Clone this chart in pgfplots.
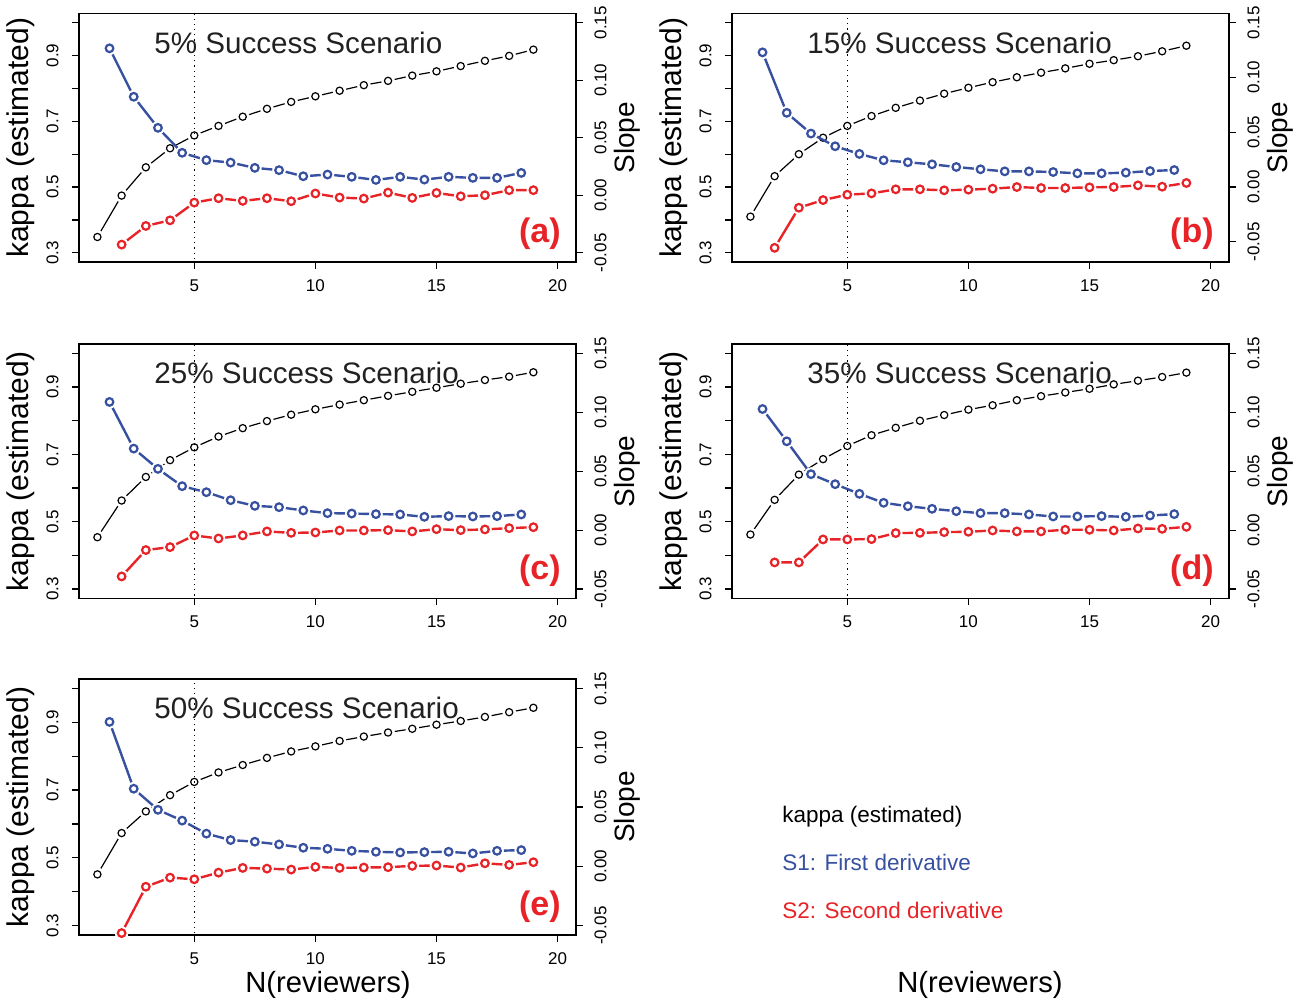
\documentclass[border=0pt]{standalone}
\usepackage{pgfplots}
\pgfplotsset{compat=1.18}
\usepackage{pgfplotstable}
\usepackage{fontspec}
\setmainfont{Liberation Sans}
\definecolor{sblue}{RGB}{55,80,160}
\definecolor{sred}{RGB}{232,35,40}

% columns: n, kappa(n), S1 at n+0.5, S2 at n
\pgfplotstableread{
n kappa s1 s2
1 0.348 0.1277 nan
2 0.474 0.0856 -0.0429
3 0.560 0.0586 -0.0267
4 0.618 0.0369 -0.0218
5 0.657 0.0305 -0.0064
6 0.686 0.0284 -0.0026
7 0.714 0.0238 -0.0049
8 0.738 0.0218 -0.0026
9 0.759 0.0165 -0.0052
10 0.776 0.0180 0.0015
11 0.793 0.0160 -0.0020
12 0.810 0.0133 -0.0029
13 0.823 0.0160 0.0023
14 0.839 0.0136 -0.0023
15 0.852 0.0160 0.0020
16 0.868 0.0151 -0.0009
17 0.884 0.0151 0.0000
18 0.899 0.0194 0.0044
19 0.918 nan 0.0044
}\tabA
\pgfplotstableread{
n kappa s1 s2
1 0.410 0.1229 nan
2 0.533 0.0677 -0.0555
3 0.600 0.0488 -0.0189
4 0.650 0.0372 -0.0119
5 0.686 0.0302 -0.0070
6 0.716 0.0244 -0.0058
7 0.741 0.0226 -0.0021
8 0.763 0.0207 -0.0021
9 0.784 0.0183 -0.0030
10 0.802 0.0162 -0.0024
11 0.819 0.0143 -0.0015
12 0.834 0.0143 0.0000
13 0.848 0.0137 -0.0009
14 0.861 0.0125 -0.0009
15 0.875 0.0125 -0.0003
16 0.886 0.0131 0.0000
17 0.898 0.0146 0.0015
18 0.913 0.0155 0.0003
19 0.930 nan 0.0037
}\tabB
\pgfplotstableread{
n kappa s1 s2
1 0.454 0.1088 nan
2 0.563 0.0692 -0.0393
3 0.633 0.0520 -0.0169
4 0.683 0.0373 -0.0144
5 0.721 0.0322 -0.0045
6 0.753 0.0254 -0.0071
7 0.778 0.0206 -0.0045
8 0.799 0.0195 -0.0011
9 0.818 0.0167 -0.0023
10 0.834 0.0144 -0.0020
11 0.848 0.0141 -0.0003
12 0.861 0.0136 -0.0003
13 0.874 0.0133 0.0000
14 0.886 0.0113 -0.0011
15 0.898 0.0119 0.0008
16 0.910 0.0116 0.0000
17 0.921 0.0119 0.0006
18 0.931 0.0133 0.0017
19 0.944 nan 0.0025
}\tabC
\pgfplotstableread{
n kappa s1 s2
1 0.462 0.1028 nan
2 0.565 0.0754 -0.0274
3 0.640 0.0475 -0.0274
4 0.686 0.0390 -0.0079
5 0.725 0.0308 -0.0079
6 0.757 0.0232 -0.0076
7 0.779 0.0203 -0.0025
8 0.800 0.0181 -0.0023
9 0.817 0.0161 -0.0017
10 0.833 0.0144 -0.0014
11 0.846 0.0144 -0.0003
12 0.861 0.0133 -0.0011
13 0.873 0.0116 -0.0011
14 0.884 0.0116 0.0003
15 0.895 0.0119 0.0003
16 0.908 0.0113 -0.0003
17 0.919 0.0124 0.0014
18 0.930 0.0136 0.0011
19 0.943 nan 0.0028
}\tabD
\pgfplotstableread{
n kappa s1 s2
1 0.451 0.1218 nan
2 0.573 0.0654 -0.0564
3 0.637 0.0476 -0.0173
4 0.685 0.0385 -0.0096
5 0.724 0.0275 -0.0110
6 0.752 0.0221 -0.0054
7 0.774 0.0207 -0.0014
8 0.795 0.0184 -0.0020
9 0.814 0.0156 -0.0028
10 0.829 0.0147 -0.0006
11 0.845 0.0130 -0.0014
12 0.858 0.0122 -0.0011
13 0.870 0.0116 -0.0008
14 0.881 0.0119 0.0003
15 0.893 0.0122 0.0006
16 0.904 0.0108 -0.0011
17 0.916 0.0130 0.0025
18 0.930 0.0136 0.0011
19 0.943 nan 0.0034
}\tabE

\pgfplotsset{
  panel/.style={
    scale only axis, width=248.5pt, anchor=south west,
    xmin=0.24, xmax=20.76,
    axis line style={line width=0.6pt},
    every tick/.style={line width=0.6pt, black},
    major tick length=3.5pt, tick align=outside,
    ticklabel style={font=\fontsize{8.5}{10}\selectfont, inner sep=0pt},
  },
  leftax/.style={panel,
    ymin=0.272, ymax=1.028,
    xtick={5,10,15,20}, xticklabels={5,10,15,20}, xtick pos=bottom,
    xticklabel shift=5pt,
    ytick={0.3,0.4,0.5,0.6,0.7,0.8,0.9,1.0},
    yticklabels={0.3,,0.5,,0.7,,0.9,}, ytick pos=left,
    yticklabel style={rotate=90, anchor=south},
    yticklabel shift=6.5pt,
  },
  rightax/.style={panel,
    axis y line*=right, axis x line=none,
    ytick={-0.05,0,0.05,0.1,0.15},
    yticklabels={-0.05,0.00,0.05,0.10,0.15},
    yticklabel style={rotate=90, anchor=north},
    yticklabel shift=5.5pt,
  },
}

\newcommand{\panel}[9]{%
\begin{axis}[leftax, name=#1, at={(#3,#4)}, height=#5]
  \addplot[black, line width=0.6pt] table[x=n, y=kappa] {#2};
  \addplot[only marks, mark=*, mark size=3.2pt, white] table[x=n, y=kappa] {#2};
  \addplot[only marks, mark=o, mark size=1.8pt, black, mark options={line width=0.6pt}] table[x=n, y=kappa] {#2};
\end{axis}
\begin{axis}[rightax, at={(#3,#4)}, height=#5, ymin=#8, ymax=#9]
  \addplot[sblue, line width=1.2pt] table[x expr=\thisrow{n}+0.5, y=s1] {#2};
  \addplot[only marks, mark=*, mark size=3.2pt, white] table[x expr=\thisrow{n}+0.5, y=s1] {#2};
  \addplot[only marks, mark=o, mark size=1.9pt, sblue, mark options={line width=1.1pt}] table[x expr=\thisrow{n}+0.5, y=s1] {#2};
  \addplot[sred, line width=1.2pt] table[x=n, y=s2] {#2};
  \addplot[only marks, mark=*, mark size=3.2pt, white] table[x=n, y=s2] {#2};
  \addplot[only marks, mark=o, mark size=1.9pt, sred, mark options={line width=1.1pt}] table[x=n, y=s2] {#2};
  \addplot[black, dotted, line width=0.6pt] coordinates {(5,-1) (5,1)};
\end{axis}
\node[rotate=90, font=\fontsize{15}{18}\selectfont] at ([xshift=-29pt]#1.west) {kappa (estimated)};
\node[rotate=90, font=\fontsize{14}{17}\selectfont] at ([xshift=25.8pt]#1.east) {Slope};
\node[anchor=base west, inner sep=0pt, font=\fontsize{14.8}{18}\selectfont, text=black!87] at ([xshift=37.5pt, yshift=-20pt]#1.north west) {#6};
\node[anchor=base east, inner sep=0pt, font=\bfseries\fontsize{17}{20}\selectfont, text=sred] at ([xshift=-7.5pt, yshift=9.5pt]#1.south east) {#7};
}

\begin{document}
\begin{tikzpicture}
\useasboundingbox (0pt,0pt) rectangle (647.5pt,499.5pt);
\panel{A}{\tabA}{39.5pt}{368.5pt}{124.25pt}{5\% Success Scenario}{(a)}{-0.058}{0.158}
\panel{B}{\tabB}{366pt}{368.5pt}{124.25pt}{15\% Success Scenario}{(b)}{-0.0684}{0.1584}
\panel{C}{\tabC}{39.5pt}{200.25pt}{127.25pt}{25\% Success Scenario}{(c)}{-0.058}{0.158}
\panel{D}{\tabD}{366pt}{200.25pt}{127.25pt}{35\% Success Scenario}{(d)}{-0.058}{0.158}
\panel{E}{\tabE}{39.5pt}{32pt}{128pt}{50\% Success Scenario}{(e)}{-0.058}{0.158}
\node[anchor=base, inner sep=0pt, font=\fontsize{14.6}{17}\selectfont] at (164pt,3.2pt) {N(reviewers)};
\node[anchor=base, inner sep=0pt, font=\fontsize{14.6}{17}\selectfont] at (490pt,3.2pt) {N(reviewers)};
\node[anchor=base west, inner sep=0pt, font=\fontsize{11.25}{13}\selectfont] at (391pt,88pt) {kappa (estimated)};
\node[anchor=base west, inner sep=0pt, font=\fontsize{11.25}{13}\selectfont, text=sblue] at (391pt,64pt) {S1: First derivative};
\node[anchor=base west, inner sep=0pt, font=\fontsize{11.25}{13}\selectfont, text=sred] at (391pt,40pt) {S2: Second derivative};
\end{tikzpicture}
\end{document}
